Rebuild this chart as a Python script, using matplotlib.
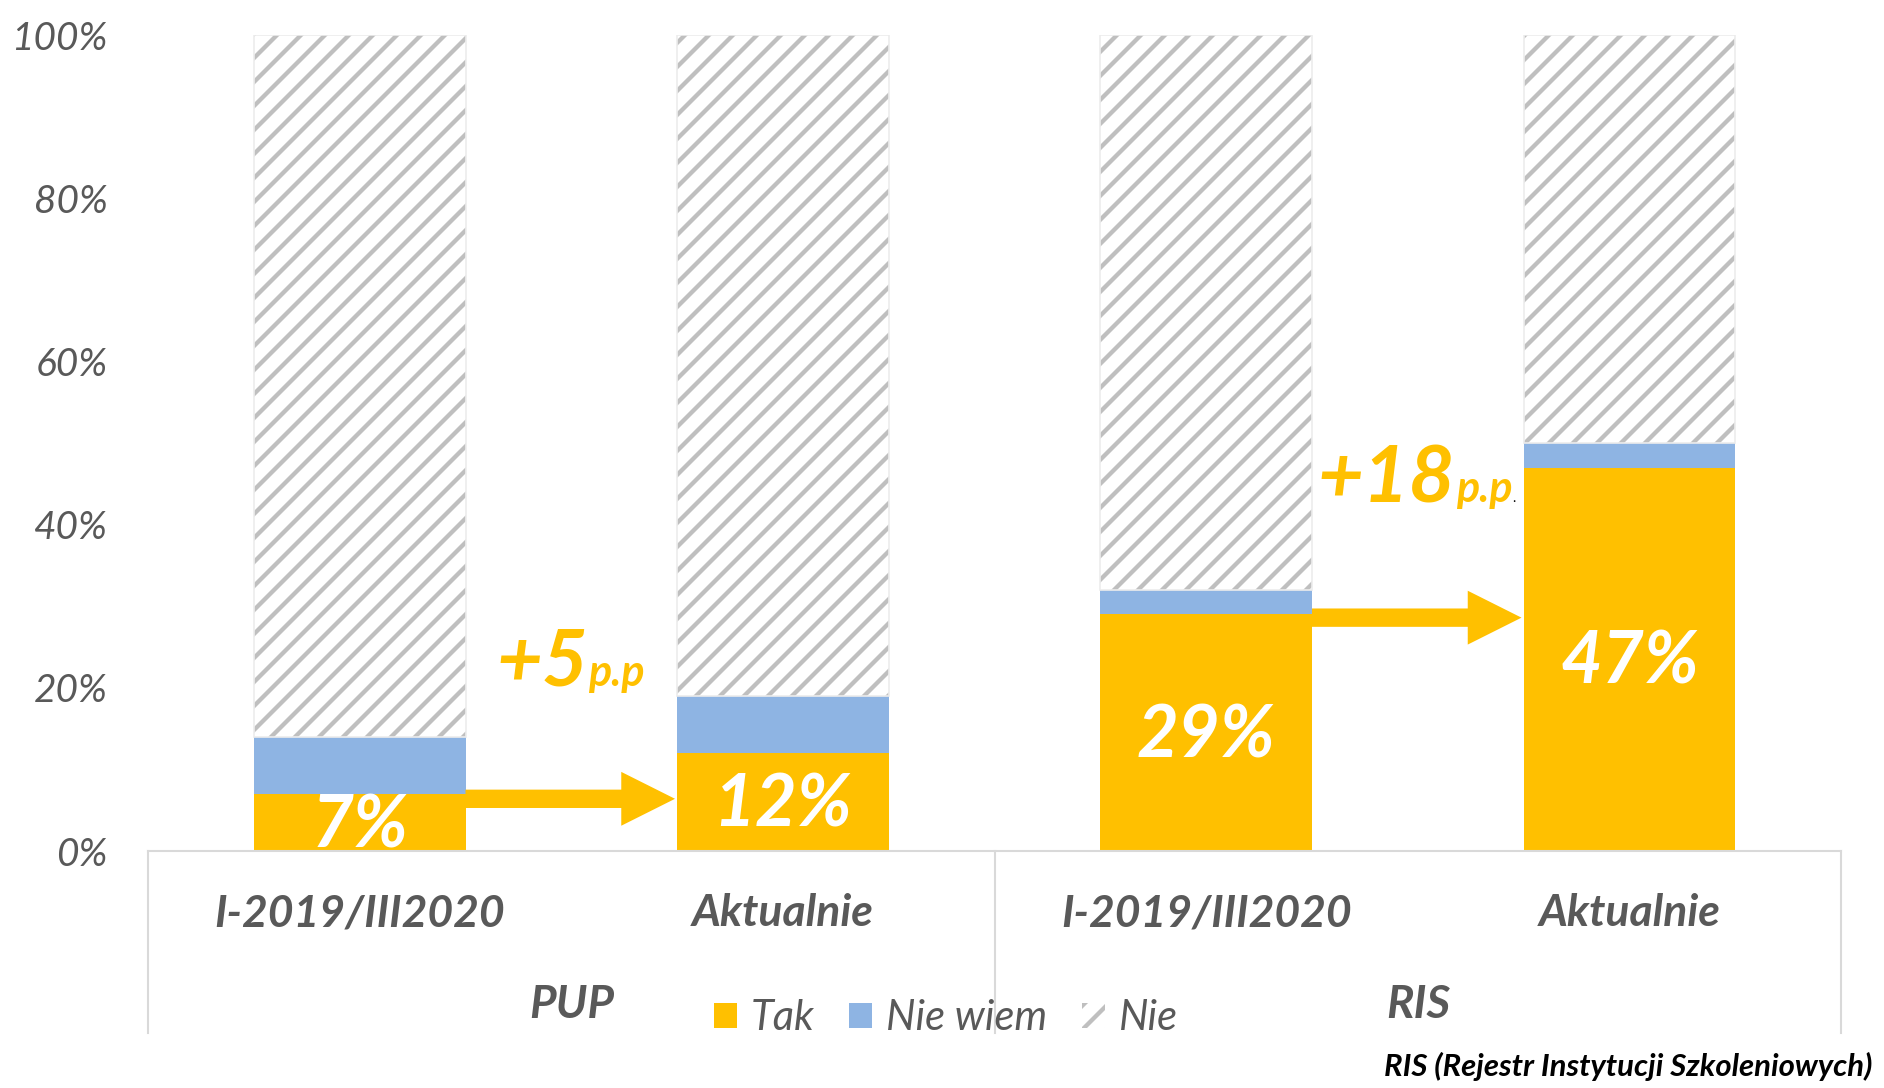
import matplotlib
matplotlib.use("Agg")
import matplotlib.pyplot as plt
from matplotlib.lines import Line2D
from matplotlib.offsetbox import HPacker, TextArea, AnnotationBbox
import numpy as np

# data (percent of respondents)
groups = ["PUP", "RIS"]
periods = ["I-2019/III2020", "Aktualnie", "I-2019/III2020", "Aktualnie"]
tak = [7, 12, 29, 47]
nie_wiem = [7, 7, 3, 3]
nie = [86, 81, 68, 50]
series_names = ["Tak", "Nie wiem", "Nie"]
arrow_y = [6.4, 28.6]
yticks = [0, 20, 40, 60, 80, 100]
footnote = "RIS (Rejestr Instytucji Szkoleniowych)"

YELLOW = "#FFC000"
BLUE = "#8EB4E3"
HATCH = "#BFBFBF"
GREY_TXT = "#595959"
LINE = "#D9D9D9"
FONT = ["Lato", "DejaVu Sans"]

# drawn at 72 dpi so the "/" hatch gets Excel's stripe spacing;
# S converts sizes picked for 100 dpi
DPI = 72
S = 100 / DPI

plt.rcParams["font.family"] = FONT
plt.rcParams["hatch.linewidth"] = 4.3

fig = plt.figure(figsize=(1884 / DPI, 1088 / DPI), dpi=DPI)
ax = fig.add_axes([0.0786, 0.2178, 0.8986, 0.75])

x = np.arange(len(periods))
w = 0.5
tak = np.array(tak); nie_wiem = np.array(nie_wiem); nie = np.array(nie)

b1 = ax.bar(x, tak, w, color=YELLOW, linewidth=0, label=series_names[0])
b2 = ax.bar(x, nie_wiem, w, bottom=tak, color=BLUE, linewidth=0,
            label=series_names[1])
b3 = ax.bar(x, nie, w, bottom=tak + nie_wiem, color="white",
            edgecolor=HATCH, hatch="/", linewidth=0, label=series_names[2])
# thin light border round the hatched part
ax.bar(x, nie, w, bottom=tak + nie_wiem, fill=False, edgecolor="#ECECEC",
       linewidth=1.2 * S)

ax.set_xlim(-0.5, len(periods) - 0.5)
ax.set_ylim(0, 100)
ax.set_yticks(yticks)
ax.set_yticklabels([f"{t}%" for t in yticks], fontsize=28 * S,
                   style="italic", color=GREY_TXT)
ax.tick_params(axis="y", length=0, pad=29 * S)
ax.set_xticks([])
for s in ["left", "right", "top"]:
    ax.spines[s].set_visible(False)
ax.spines["bottom"].set_color(LINE)
ax.spines["bottom"].set_linewidth(1.5 * S)

# multi-level category axis
depth = -0.223
for xa in [0, 0.5, 1.0]:
    ax.add_line(Line2D([xa, xa], [0, depth], transform=ax.transAxes,
                       color=LINE, lw=1.5 * S, clip_on=False))
tr = ax.get_xaxis_transform()
for xi, p in zip(x, periods):
    ax.text(xi, -0.076, p, transform=tr, ha="center", va="center",
            fontsize=32 * S, fontweight="bold", style="italic",
            color=GREY_TXT)
for gi, g in enumerate(groups):
    ax.text(2 * gi + 0.5, -0.189, g, transform=tr, ha="center", va="center",
            fontsize=33 * S, fontweight="bold", style="italic",
            color=GREY_TXT)

# value labels
for xi, v in zip(x, tak):
    ax.annotate(f"{v}%", (xi, v / 2), xytext=(0, -3 * S),
                textcoords="offset points", ha="center", va="center",
                fontsize=52 * S, fontweight="bold", style="italic",
                color="white", clip_on=True)

# change arrows + labels
label_pos = [(0.322, 20.3), (2.264, 42.8)]
for k in range(2):
    i0, i1 = 2 * k, 2 * k + 1
    x0 = x[i0] + w / 2
    x1 = x[i1] - w / 2 - 0.005
    ax.arrow(x0, arrow_y[k], x1 - x0, 0, width=2.25, head_width=6.6,
             head_length=0.127, length_includes_head=True, color=YELLOW,
             linewidth=0)
    diff = tak[i1] - tak[i0]
    parts = [TextArea(f"+{diff}", textprops=dict(
                 fontsize=57 * S, fontweight="bold", style="italic",
                 color=YELLOW, family=FONT)),
             TextArea("p.p", textprops=dict(
                 fontsize=31 * S, fontweight="bold", style="italic",
                 color=YELLOW, family=FONT))]
    if k == 1:
        parts.append(TextArea(".", textprops=dict(fontsize=10 * S,
                                                  color="black")))
    pack = HPacker(children=parts, align="baseline", pad=0, sep=0)
    ab = AnnotationBbox(pack, label_pos[k], xycoords="data",
                        box_alignment=(0, 0.2), frameon=False)
    ax.add_artist(ab)

leg = fig.legend(handles=[b1, b2, b3], labels=series_names, ncol=3,
                 loc="center", bbox_to_anchor=(0.502, 0.064), frameon=False,
                 prop=dict(family=FONT, style="italic", size=30 * S),
                 handlelength=0.55, handleheight=0.55, handletextpad=0.32,
                 columnspacing=0.85, labelcolor=GREY_TXT)

fig.text(0.9936, 0.0202, footnote, ha="right", va="center",
         fontsize=22.4 * S, fontweight="bold", style="italic",
         color="black")

fig.savefig("out.png", dpi=DPI)
